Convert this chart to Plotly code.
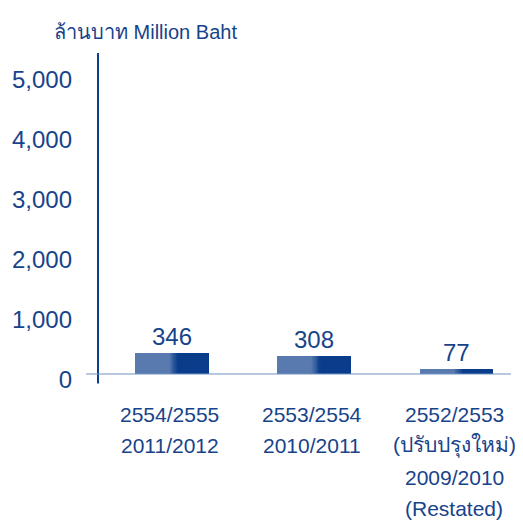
import plotly.graph_objects as go

# Data
periods_th = ["2554/2555", "2553/2554", "2552/2553"]
periods_note = ["", "", "(ปรับปรุงใหม่)"]
periods_en = ["2011/2012", "2010/2011", "2009/2010"]
periods_note_en = ["", "", "(Restated)"]
values = [346, 308, 77]
y_ticks = [0, 1000, 2000, 3000, 4000, 5000]

NAVY = "#0c3f8a"
TEXT = "#17438a"
LIGHT = (88, 122, 175)
DARK = (9, 60, 138)
FONT = "Liberation Sans, Arial, Helvetica, sans-serif"

W, H = 523, 521
ML, MR, MT, MB = 98, 12, 52, 136
PW, PH = W - ML - MR, H - MT - MB

xs = list(range(len(values)))
bar_w = 0.514
fig = go.Figure()


def rgb(c):
    return "rgb(%d,%d,%d)" % c


# Each bar is painted as a horizontal gradient: light left part, short blend, dark right part
light_frac, blend_frac, steps = 0.47, 0.12, 10
segments = [(0.0, light_frac, LIGHT)]
for i in range(steps):
    t = (i + 0.5) / steps
    col = tuple(round(LIGHT[k] + (DARK[k] - LIGHT[k]) * t) for k in range(3))
    a = light_frac + blend_frac * i / steps
    segments.append((a, a + blend_frac / steps, col))
segments.append((light_frac + blend_frac, 1.0, DARK))

for a, b, col in segments:
    fig.add_trace(go.Bar(
        x=xs, y=values,
        offset=-bar_w / 2 + a * bar_w,
        width=(b - a) * bar_w + 0.004,
        marker=dict(color=rgb(col), line=dict(width=0)),
        hoverinfo="skip", showlegend=False,
    ))

# Value labels above the bars
for x, v in zip(xs, values):
    fig.add_annotation(x=x, y=v, text=f"{v:,}", showarrow=False,
                       yanchor="bottom", yshift=1,
                       font=dict(family=FONT, size=24, color=TEXT))

# Category labels, one line per row
rows = [periods_th, periods_note, periods_en, periods_note_en]
for x in xs:
    lines = [r[x] for r in rows if r[x]]
    for j, line in enumerate(lines):
        fig.add_annotation(x=x, y=0, xref="x", yref="paper", text=line,
                           showarrow=False, yanchor="middle",
                           yshift=-29 - 31.5 * j, xshift=-2,
                           font=dict(family=FONT, size=21, color=TEXT))

# Axis title
fig.add_annotation(x=(52 - ML) / PW, y=(H - MB - 32) / PH, xref="paper", yref="paper",
                   text="ล้านบาท Million Baht",
                   showarrow=False, xanchor="left", yanchor="middle",
                   font=dict(family=FONT, size=20, color=TEXT))

# Axis lines
fig.add_shape(type="line", xref="paper", yref="y", x0=0, x1=0, y0=-160, y1=5350,
              line=dict(color=NAVY, width=2))
fig.add_shape(type="line", xref="paper", yref="y", x0=-12 / PW, x1=1.0, y0=0, y1=0,
              line=dict(color="#7592c4", width=1.2))

fig.update_layout(
    width=W, height=H,
    margin=dict(l=ML, r=MR, t=MT, b=MB),
    paper_bgcolor="white", plot_bgcolor="white",
    barmode="overlay", bargap=0,
    xaxis=dict(range=[-0.5176, 2.384], showticklabels=False, showgrid=False,
               zeroline=False, showline=False, fixedrange=True),
    yaxis=dict(range=[-183, 5367], tickvals=y_ticks, tickformat=",",
               showgrid=False, zeroline=False, showline=False, ticks="",
               ticklabelstandoff=25, ticklabelshift=6,
               tickfont=dict(family=FONT, size=24, color=TEXT)),
)

fig.write_html("out.html")
